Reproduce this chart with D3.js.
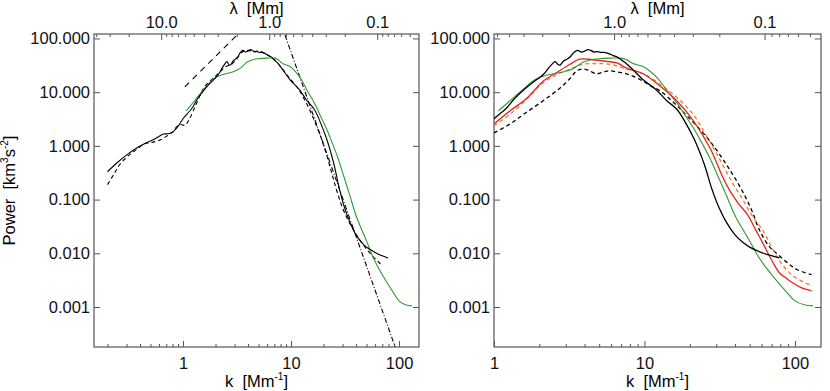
<!DOCTYPE html>
<html>
<head>
<meta charset="utf-8">
<script src="https://cdn.jsdelivr.net/npm/d3@7"></script>
<style>
  body { margin: 0; background: #fff; }
  svg { font-family: "Liberation Sans", Arial, sans-serif; }
  .tick text { font-size: 16.5px; fill: #111; }
  .tick line { stroke: #555; }
</style>
</head>
<body>
<div id="chart"></div>
<script>
//shared spectra, k in Mm^-1 and power in km^3 s^-2
var kBlack = [0.2,0.25,0.31,0.37,0.44,0.53,0.6,0.66,0.73,0.8,0.9,1.0,1.1,1.2,1.38,1.6,1.8,2.0,2.15,2.3,2.45,2.55,2.65,2.75,2.9,3.05,3.2,3.4,3.6,3.8,4.0,4.2,4.4,4.6,4.8,5.1,5.4,5.8,6.2,6.6,7.0,7.5,8.4,9.8,12,14,16.4,18.6,21.5,25,28,31,35,40,45,50,57,65,72,79];
var pBlack = [0.33,0.5,0.71,0.9,1.09,1.3,1.5,1.66,1.68,1.8,2.3,3.2,4.0,4.9,7.8,11.5,15,18.5,22,28,34,37,33,32,38,41,45,55,60,56,58,62,60,56,57,55,55,52,48,45,40,35,26,17,11,7,4.8,2.8,1.3,0.45,0.16,0.075,0.038,0.022,0.016,0.013,0.011,0.0095,0.0088,0.0082];

var kGreen = [1.07,1.3,1.6,1.9,2.2,2.6,3.0,3.4,3.9,4.4,5,6,7,7.6,8.4,9.8,11,12.5,14,16.5,19,21.5,24,27,31,35,40,45,50,56,62,70,77,88,100,115,132];
var pGreen = [4.5,7.2,12,17.5,20.5,22.5,24.5,28,36,40,42,43,43,40,34,30,24,17,11,6.2,3.4,2.0,1.15,0.62,0.26,0.12,0.05,0.028,0.017,0.0095,0.0062,0.004,0.0029,0.0019,0.0013,0.0011,0.00105];

//left panel only
var kDashL = [0.2,0.23,0.26,0.31,0.37,0.44,0.5,0.55,0.62,0.7,0.8,0.88,0.95,1.04,1.15,1.3,1.45,1.6,1.9,2.2,2.5,2.8,3.1,3.5,4,4.5,5,5.5,6.2,7,8,9,10,11.5,13,15,17,19,21,23,25,27,30,34,38,43,50,58,66,71];
var pDashL = [0.19,0.3,0.45,0.65,0.85,1.1,1.15,1.2,1.3,1.5,1.8,2.3,2.5,2.4,3.2,5.5,9,13,18,24,30,33,40,55,60,57,58,55,48,40,30,22,17,12,8,4.5,2.5,1.4,0.75,0.4,0.22,0.13,0.07,0.04,0.027,0.018,0.012,0.0085,0.0066,0.0058];
var kFitLow = [1.04, 3.1];
var pFitLow = [12.5, 111];
var kFitHigh = [8.8, 92];
var pFitHigh = [115, 0.00018];

//right panel only
var kRed = [1,1.28,1.66,2.12,2.6,3.2,3.7,4.3,5.3,6.55,7.6,9.8,12.7,16.4,21.2,27.2,33.4,37,42,48,55,61.5,70,79,88,97,110,129];
var pRed = [2.56,4.5,7.8,16,23,33,41,41,38,35,28,22,13,6.9,2.9,0.92,0.25,0.145,0.085,0.054,0.027,0.015,0.0075,0.0043,0.0034,0.0028,0.0023,0.002];
var kOrange = [1,1.28,1.66,2.12,2.6,3.2,3.9,4.8,5.9,7.6,9.8,12.7,16.4,21,27,33,38.6,45,52,61.5,70,79,97,129];
var pOrange = [2.36,3.9,7.5,15,21,27,33,34,33,27,22,14,8,3.9,1.24,0.45,0.2,0.1,0.05,0.026,0.013,0.0072,0.0038,0.0025];
var kDashR = [1,1.28,1.6,2.12,2.75,3.2,3.55,3.9,4.3,4.8,5.4,5.9,6.7,7.6,8.7,9.8,11,12.7,16,19.2,24.5,30,35,39,45,52,58.5,68,77,90,103,129];
var pDashR = [1.75,2.56,4,6.9,12,18,25,27,25,22,24,25,23.5,22,19,16,13,10.6,6,3.6,1.75,0.85,0.45,0.28,0.14,0.06,0.026,0.013,0.0095,0.0065,0.005,0.004];

//tick values
var powerTicks = [100, 10, 1, 0.1, 0.01, 0.001];
var lambdaMajor = [10, 1, 0.1];
var kMajor = [1, 10, 100];

var width = 830, height = 391;
var yTop = 34, yBottom = 347;

var svg = d3.select("#chart").append("svg").attr("width", width).attr("height", height);

var y = d3.scaleLog().domain([121, 0.00018]).range([yTop, yBottom]);

function zip(ks, ps) {
  return ks.map(function (k, i) { return [k, ps[i]]; });
}

//minor ticks 2..9 for every decade inside a domain
function minors(lo, hi) {
  var out = [];
  for (var e = -3; e <= 3; e++) {
    for (var m = 2; m <= 9; m++) {
      var v = m * Math.pow(10, e);
      if (v >= lo && v <= hi) out.push(v);
    }
  }
  return out;
}

function panel(id, x0, x1, kDomain, series) {
  var x = d3.scaleLog().domain(kDomain).range([x0, x1]);
  var g = svg.append("g").attr("id", id);

  g.append("clipPath").attr("id", id + "-clip").append("rect")
    .attr("x", x0).attr("y", yTop).attr("width", x1 - x0).attr("height", yBottom - yTop);

  //bottom axis, ticks inward
  g.append("g").attr("transform", "translate(0," + yBottom + ")")
    .call(d3.axisBottom(x).tickValues(kMajor.filter(function (d) { return d >= kDomain[0]; }))
      .tickFormat(d3.format("d")).tickSizeInner(-6).tickSizeOuter(0).tickPadding(10));
  g.append("g").attr("transform", "translate(0," + yBottom + ")")
    .call(d3.axisBottom(x).tickValues(minors(kDomain[0], kDomain[1])).tickFormat("").tickSizeInner(-3).tickSizeOuter(0));

  //top axis in lambda = 2 pi / k
  var lamLo = 2 * Math.PI / kDomain[1], lamHi = 2 * Math.PI / kDomain[0];
  g.append("g").attr("transform", "translate(0," + yTop + ")")
    .call(d3.axisTop(x).tickValues(lambdaMajor.filter(function (l) { return l >= lamLo && l <= lamHi; })
      .map(function (l) { return 2 * Math.PI / l; }))
      .tickFormat(function (k) { return d3.format(".1f")(2 * Math.PI / k); })
      .tickSizeInner(-6).tickSizeOuter(0).tickPadding(6));
  g.append("g").attr("transform", "translate(0," + yTop + ")")
    .call(d3.axisTop(x).tickValues(minors(lamLo, lamHi).map(function (l) { return 2 * Math.PI / l; }))
      .tickFormat("").tickSizeInner(-3).tickSizeOuter(0));

  //left and right axes
  g.append("g").attr("transform", "translate(" + x0 + ",0)")
    .call(d3.axisLeft(y).tickValues(powerTicks).tickFormat(d3.format(".3f"))
      .tickSizeInner(-6).tickSizeOuter(0).tickPadding(4));
  g.append("g").attr("transform", "translate(" + x1 + ",0)")
    .call(d3.axisRight(y).tickValues(powerTicks).tickFormat("").tickSizeInner(-6).tickSizeOuter(0));

  g.selectAll(".domain").remove();

  g.append("rect").attr("x", x0).attr("y", yTop).attr("width", x1 - x0).attr("height", yBottom - yTop)
    .attr("fill", "none").attr("stroke", "#555").attr("stroke-width", 1.2);

  var line = d3.line().x(function (d) { return x(d[0]); }).y(function (d) { return y(d[1]); })
    .curve(d3.curveCatmullRom.alpha(0.5));

  var plot = g.append("g").attr("clip-path", "url(#" + id + "-clip)");
  series.forEach(function (s) {
    plot.append("path").datum(zip(s.k, s.p))
      .attr("d", s.straight ? d3.line().x(function (d) { return x(d[0]); }).y(function (d) { return y(d[1]); }) : line)
      .attr("fill", "none").attr("stroke", s.color).attr("stroke-width", s.w || 1.1)
      .attr("stroke-dasharray", s.dash || null);
  });

  //axis titles
  var cx = (x0 + x1) / 2;
  g.append("text").attr("x", cx).attr("y", 13.5).attr("text-anchor", "middle").style("font-size", "16.5px")
    .text("\u03bb\u00a0\u00a0[Mm]");
  var kt = g.append("text").attr("x", cx).attr("y", 387).attr("text-anchor", "middle").style("font-size", "16.5px");
  kt.append("tspan").text("k\u00a0\u00a0[Mm");
  kt.append("tspan").attr("dy", -7).style("font-size", "10px").text("-1");
  kt.append("tspan").attr("dy", 7).text("]");
}

panel("left", 94, 419, [0.15, 153], [
  { k: kFitLow, p: pFitLow, color: "#000", dash: "6,5", straight: true },
  { k: kFitHigh, p: pFitHigh, color: "#000", dash: "5,2,1,2", straight: true },
  { k: kDashL, p: pDashL, color: "#000", dash: "4,3" },
  { k: kGreen, p: pGreen, color: "#2f9a33" },
  { k: kBlack, p: pBlack, color: "#000" }
]);

panel("right", 494, 821, [1, 149], [
  { k: kDashR, p: pDashR, color: "#000", dash: "4,3", w: 1.3 },
  { k: kOrange, p: pOrange, color: "#f07a2a", dash: "4,3", w: 1.3 },
  { k: kGreen, p: pGreen, color: "#2f9a33" },
  { k: kRed, p: pRed, color: "#e8231b", w: 1.3 },
  { k: kBlack, p: pBlack, color: "#000", w: 1.3 }
]);

//y title
var yt = svg.append("text").attr("transform", "translate(15,190.5) rotate(-90)").attr("text-anchor", "middle")
  .style("font-size", "16.5px");
yt.append("tspan").text("Power\u00a0\u00a0[km");
yt.append("tspan").attr("dy", -7).style("font-size", "10px").text("3");
yt.append("tspan").attr("dy", 7).text("s");
yt.append("tspan").attr("dy", -7).style("font-size", "10px").text("-2");
yt.append("tspan").attr("dy", 7).text("]");
</script>
</body>
</html>
